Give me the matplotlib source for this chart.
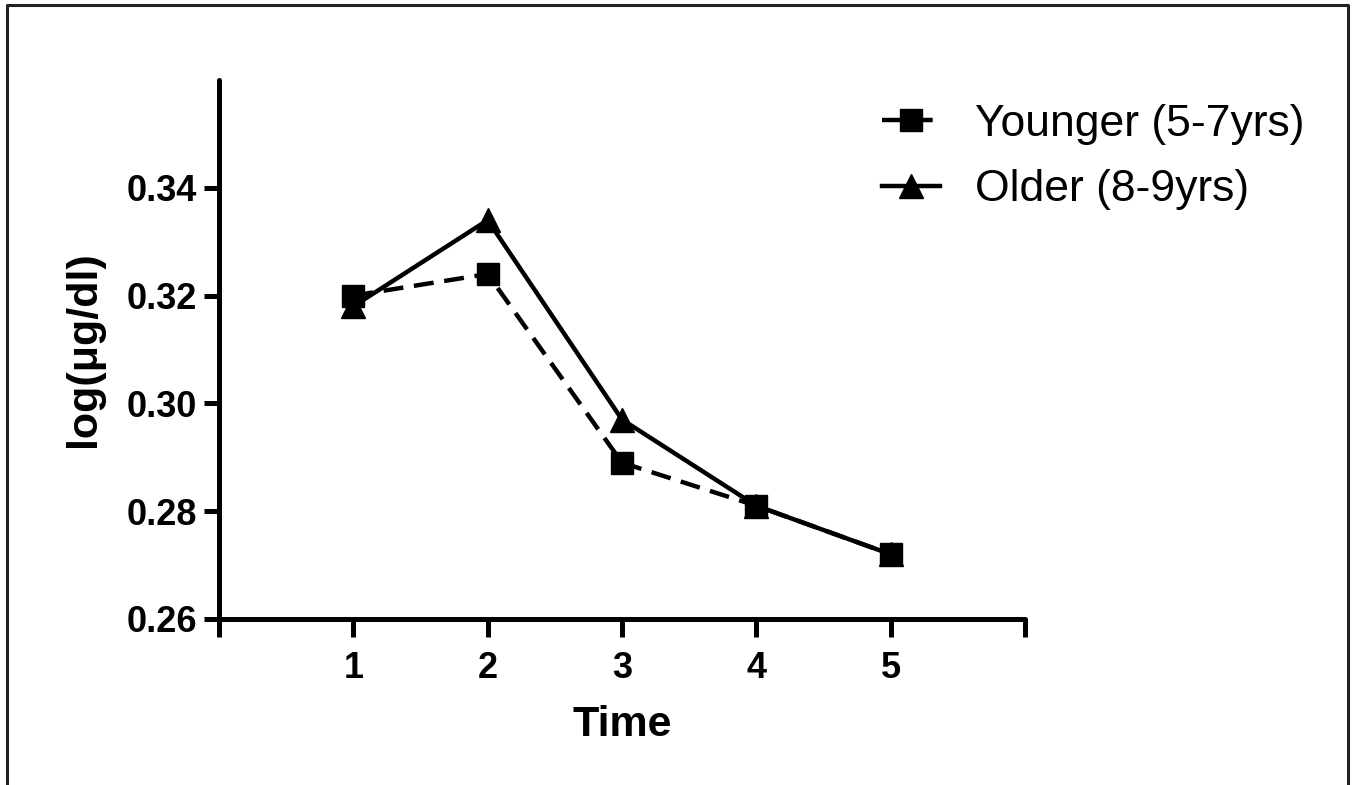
import matplotlib.pyplot as plt
from matplotlib.lines import Line2D

plt.rcParams.update({
    'font.family': ['Liberation Sans', 'DejaVu Sans'],
    'font.weight': 'bold',
})

time = [1, 2, 3, 4, 5]
younger = [0.320, 0.324, 0.289, 0.281, 0.272]
older = [0.318, 0.334, 0.297, 0.281, 0.272]
xticks = [0, 1, 2, 3, 4, 5, 6]
xticklabels = ['', '1', '2', '3', '4', '5', '']
yticks = [0.26, 0.28, 0.30, 0.32, 0.34]

fig = plt.figure(figsize=(13.55, 7.85), dpi=100)
ax = fig.add_axes([0.1616, 0.2115, 0.5949, 0.6866])

# older first so the squares sit on top
ax.plot(time, older, color='black', lw=3.2, marker='^', markersize=17,
        solid_joinstyle='miter', label='Older (8-9yrs)', zorder=3)
ax.plot(time, younger, color='black', lw=3.2, marker='s', markersize=16,
        linestyle=(0, (4.5, 2.4)), label='Younger (5-7yrs)', zorder=4)

ax.set_xlim(0, 6)
ax.set_ylim(0.26, 0.36)
ax.set_xticks(xticks)
ax.set_xticklabels(xticklabels)
ax.set_yticks(yticks)
ax.set_yticklabels(['%.2f' % v for v in yticks])

for side in ['top', 'right']:
    ax.spines[side].set_visible(False)
for side in ['left', 'bottom']:
    ax.spines[side].set_linewidth(3.6)
    ax.spines[side].set_capstyle('round')

ax.tick_params(axis='x', direction='out', length=13, width=3.6,
               pad=10, labelsize=26)
ax.tick_params(axis='y', direction='out', length=11, width=3.6,
               pad=5, labelsize=26)
for lab in ax.get_xticklabels() + ax.get_yticklabels():
    lab.set_fontweight('bold')

ax.set_xlabel('Time', fontsize=31, fontweight='bold', labelpad=14)
ax.set_ylabel('log(\u03bcg/dl)', fontsize=31, fontweight='bold', labelpad=16)

handles, labels = ax.get_legend_handles_labels()
leg = ax.legend(handles[::-1], labels[::-1], loc='upper left',
                bbox_to_anchor=(0.651, 0.868), bbox_transform=fig.transFigure,
                frameon=False, handlelength=1.3, handletextpad=0.8,
                borderpad=0, borderaxespad=0,
                labelspacing=0.55, prop={'size': 32, 'weight': 'normal'})

# outer frame
fig.add_artist(Line2D([0.0052, 0.0052, 0.9948, 0.9948], [0.0, 0.9936, 0.9936, 0.0],
                      transform=fig.transFigure, color='#222222', lw=2.2))

fig.savefig('out.png', dpi=100)
